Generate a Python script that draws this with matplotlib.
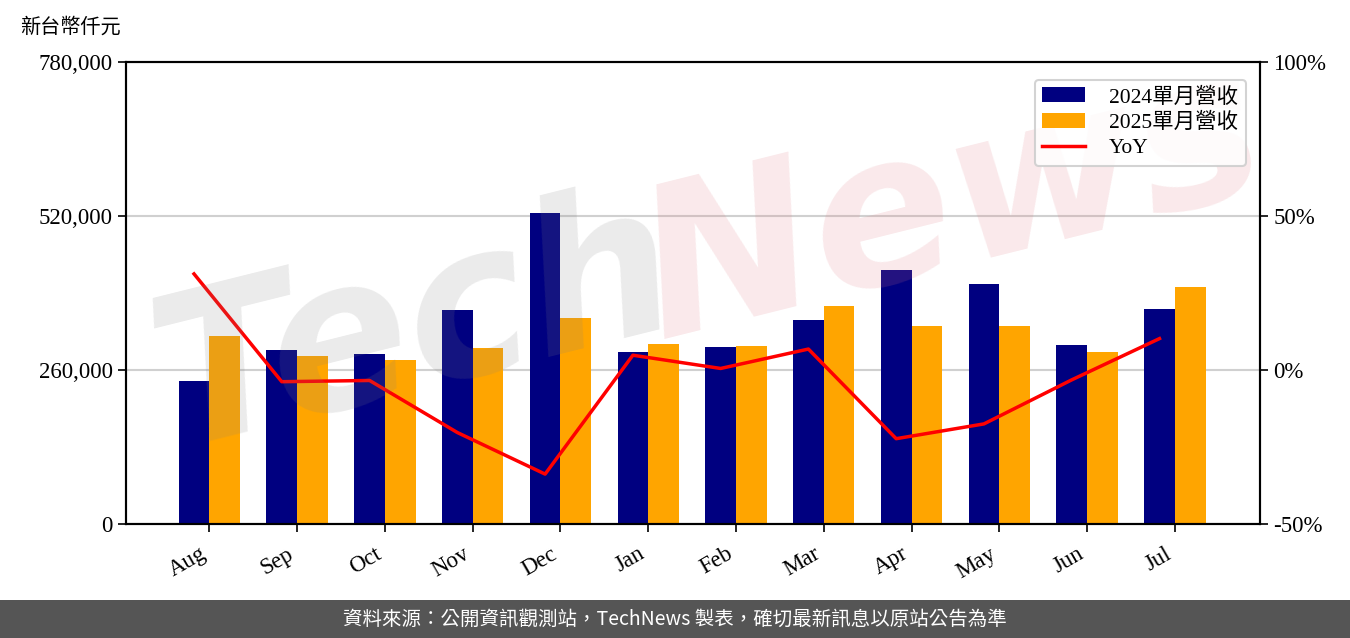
"""Monthly revenue 2024 vs 2025 with YoY line (TechNews style)."""

import matplotlib
matplotlib.use("Agg")
import matplotlib.pyplot as plt
import matplotlib.ticker as mticker
import numpy as np

# Data (thousand NTD)
months = ["Aug", "Sep", "Oct", "Nov", "Dec", "Jan", "Feb", "Mar", "Apr", "May", "Jun", "Jul"]
rev_2024 = [241400, 293800, 287000, 361300, 525000, 290400, 298800, 344400, 428800, 405200, 302200, 363000]
rev_2025 = [317400, 283600, 276900, 297100, 347800, 303900, 300500, 368000, 334300, 334300, 290400, 400100]
yoy_pct = [31.2, -3.8, -3.4, -20.3, -33.8, 4.8, 0.5, 6.8, -22.3, -17.5, -3.2, 10.2]

left_ticks = [0, 260000, 520000, 780000]
right_ticks = [-50, 0, 50, 100]

SERIF = ["Liberation Serif", "Noto Sans CJK TC"]
plt.rcParams["font.family"] = SERIF

fig = plt.figure(figsize=(13.5, 6.38), dpi=100)
ax = fig.add_axes([126 / 1350, 1 - 524 / 638, (1260 - 126) / 1350, (524 - 62) / 638])

x = np.arange(len(months))
w = 0.35
b1 = ax.bar(x - w, rev_2024, width=w, align="edge", color="navy", label="2024單月營收", zorder=2)
b2 = ax.bar(x, rev_2025, width=w, align="edge", color="orange", label="2025單月營收", zorder=2)

ax.set_xlim(-0.95, len(months) - 0.03)
ax.set_ylim(0, 780000)
ax.set_yticks(left_ticks)
ax.yaxis.set_major_formatter(mticker.FuncFormatter(lambda v, _: f"{int(v):,}"))
ax.grid(axis="y", color="#d0d0d0", linewidth=1.5, zorder=0)
ax.set_axisbelow(True)
ax.set_xticks(x)
ax.set_xticklabels(months, rotation=30, ha="right")
ax.tick_params(axis="both", labelsize=16.5, width=1.2, length=6)
ax.tick_params(axis="x", pad=8)
for s in ax.spines.values():
    s.set_linewidth(1.5)

ax2 = ax.twinx()
ln, = ax2.plot(x - w / 2, yoy_pct, color="red", linewidth=2.5, label="YoY", zorder=3)
ax2.set_ylim(-50, 100)
ax2.set_yticks(right_ticks)
ax2.yaxis.set_major_formatter(mticker.FuncFormatter(lambda v, _: f"{int(v)}%"))
ax2.tick_params(axis="y", labelsize=16.5, width=1.2, length=6)
for s in ax2.spines.values():
    s.set_linewidth(1.5)

leg = ax2.legend(handles=[b1, b2, ln], loc="upper right", fontsize=15.5,
                 handlelength=2.0, handletextpad=1.1, borderpad=0.35,
                 labelspacing=0.25, framealpha=0.85, edgecolor="#cccccc",
                 bbox_to_anchor=(0.997, 0.985))
leg.get_frame().set_linewidth(1.5)
leg.set_zorder(10)

# unit label
fig.text(20 / 1350, 1 - 27 / 638, "新台幣仟元", fontsize=14.5, va="center", ha="left",
         family=["Noto Sans CJK TC"])

# watermark (under the legend)
ax2.text(0.10, 0.30, "Tech", fontsize=150, style="italic", weight="bold",
         color="#808080", alpha=0.16, rotation=14, family=["DejaVu Sans"],
         transform=fig.transFigure, zorder=4)
ax2.text(0.46, 0.47, "News", fontsize=150, style="italic", weight="bold",
         color="#e07880", alpha=0.16, rotation=14, family=["DejaVu Sans"],
         transform=fig.transFigure, zorder=4)

# footer band
fig.patches.append(plt.Rectangle((0, 0), 1, 38 / 638, transform=fig.transFigure,
                                 facecolor="#555555", edgecolor="none"))
fig.text(0.5, 19 / 638, "資料來源：公開資訊觀測站，TechNews 製表，確切最新訊息以原站公告為準",
         color="white", fontsize=14, ha="center", va="center",
         family=["Noto Sans CJK TC", "DejaVu Sans"])

fig.savefig("out.png", dpi=100)
